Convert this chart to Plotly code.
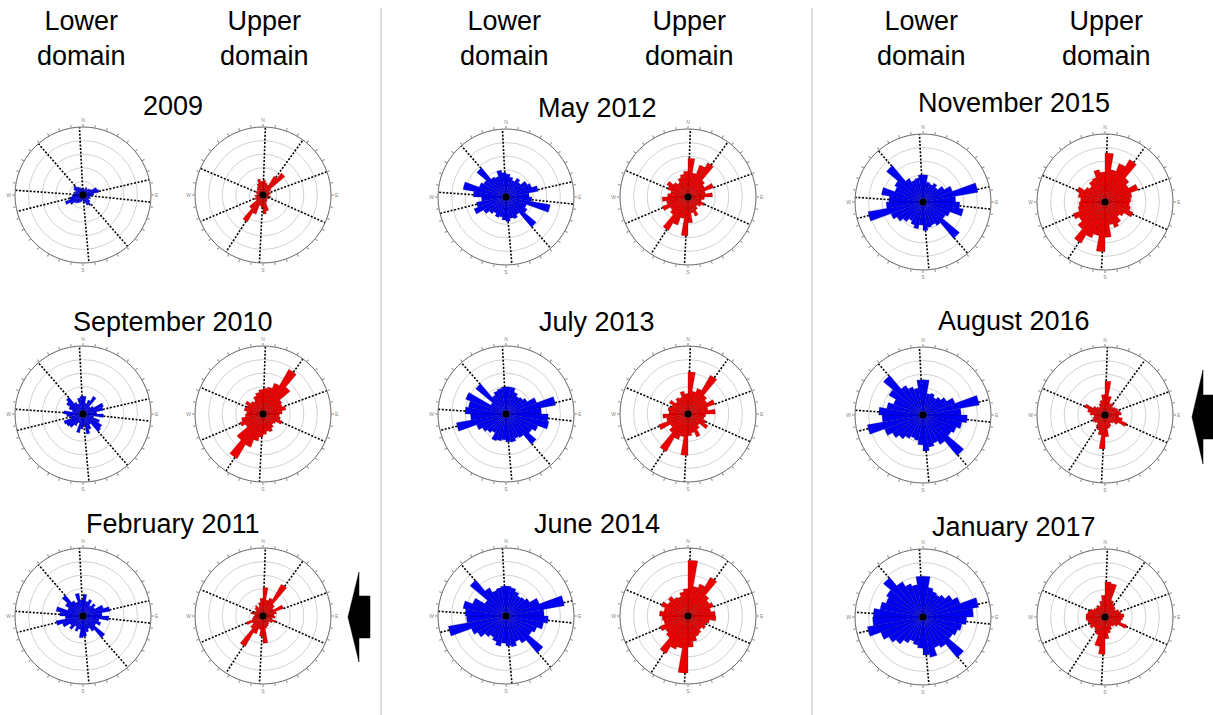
import plotly.graph_objects as go

W, H = 1213, 715
R_PX = 68  # rose radius in pixels

# 10-degree direction bins (bearing of bin centre, clockwise from north)
bins = list(range(5, 360, 10))

# Spoke bearings drawn as dotted reference lines
lower_spokes = [357, 319, 274, 256, 175, 139, 77, 96]
upper_spokes = [2, 36, 70, 114, 183, 213, 247, 293]

# Bin lengths (outer ring = 5)
lower_2009 = [0.5, 0.4, 0.6, 0.5, 0.6, 0.7, 1.1, 1.2, 0.8, 0.6, 0.5, 0.6, 0.5, 0.7, 0.9, 0.8, 0.6, 0.5,
              0.4, 0.5, 0.6, 0.7, 0.8, 1.1, 1.4, 1.0, 0.8, 0.6, 0.7, 0.6, 0.8, 0.9, 0.7, 0.6, 0.5, 0.4]
upper_2009 = [1.1, 0.9, 0.8, 1.6, 2.1, 0.7, 0.5, 0.6, 0.5, 0.4, 0.6, 0.4, 0.5, 0.4, 0.5, 0.6, 1.2, 1.4,
              0.9, 0.8, 1.5, 2.3, 1.3, 0.6, 0.7, 0.5, 0.6, 0.4, 0.5, 0.6, 0.5, 0.6, 0.7, 0.9, 1.2, 1.0]
lower_2010 = [1.3, 0.8, 1.1, 1.5, 0.7, 0.9, 1.6, 1.5, 1.0, 1.5, 0.8, 1.3, 1.6, 1.7, 0.9, 1.2, 1.5, 0.8,
              1.1, 1.4, 0.7, 1.0, 1.3, 1.4, 1.5, 0.9, 1.2, 1.4, 0.8, 1.1, 1.4, 1.6, 1.0, 0.8, 1.2, 1.3]
upper_2010 = [1.9, 2.0, 2.4, 3.8, 2.6, 1.6, 1.5, 1.7, 1.4, 1.2, 1.3, 1.5, 1.1, 1.0, 1.2, 1.4, 1.3, 1.5,
              1.7, 2.0, 2.6, 3.8, 2.5, 1.5, 1.8, 1.6, 1.3, 1.2, 1.4, 1.3, 1.5, 1.2, 1.1, 1.4, 1.6, 1.8]
lower_2011 = [1.6, 1.1, 1.3, 0.9, 1.2, 1.0, 1.6, 2.0, 1.4, 1.9, 1.2, 1.4, 1.1, 2.1, 1.3, 1.0, 1.2, 1.5,
              1.6, 1.0, 1.2, 0.9, 1.3, 1.1, 1.6, 2.0, 1.3, 1.7, 2.0, 1.2, 1.5, 2.0, 1.3, 1.1, 1.7, 1.2]
upper_2011 = [2.1, 1.2, 1.4, 2.7, 1.1, 0.9, 1.6, 1.0, 0.8, 0.9, 0.7, 1.0, 0.8, 0.6, 0.7, 0.8, 0.9, 2.0,
              1.5, 1.0, 1.4, 2.6, 1.2, 0.9, 1.3, 0.8, 0.7, 0.6, 0.9, 0.7, 0.6, 0.8, 0.9, 0.7, 1.0, 1.3]
lower_2012 = [1.7, 1.5, 1.3, 1.6, 1.4, 1.8, 2.0, 2.4, 1.7, 1.9, 3.3, 1.6, 1.8, 2.9, 1.5, 1.7, 1.6, 1.8,
              1.7, 1.5, 1.6, 1.4, 1.6, 1.9, 2.5, 2.2, 1.8, 2.4, 3.2, 2.1, 1.9, 2.8, 1.7, 1.6, 2.0, 1.8]
upper_2012 = [2.85, 1.8, 2.5, 2.9, 1.6, 1.4, 2.0, 1.3, 1.8, 1.2, 1.0, 1.3, 1.1, 0.9, 1.1, 1.5, 1.2, 1.9,
              2.85, 1.6, 2.2, 2.85, 1.7, 1.5, 2.0, 1.6, 1.9, 1.5, 1.3, 1.6, 1.8, 1.4, 1.2, 1.5, 1.7, 1.9]
lower_2013 = [2.0, 2.0, 1.7, 1.5, 1.6, 1.8, 2.4, 3.7, 2.6, 3.1, 3.2, 2.5, 2.2, 2.9, 2.0, 1.9, 2.1, 2.05,
              1.9, 2.0, 2.1, 1.6, 1.8, 2.0, 2.3, 3.7, 2.6, 3.0, 2.8, 3.15, 1.3, 2.9, 1.6, 1.8, 1.9, 2.0]
upper_2013 = [3.1, 1.7, 2.0, 3.3, 1.8, 1.6, 2.1, 1.5, 2.0, 1.3, 1.2, 1.4, 1.7, 1.1, 1.3, 1.8, 1.4, 1.6,
              3.05, 1.7, 2.0, 3.2, 1.8, 1.5, 2.3, 1.6, 1.85, 1.4, 1.5, 1.3, 1.6, 1.2, 1.4, 1.3, 1.7, 1.5]
lower_2014 = [2.2, 2.1, 1.9, 1.7, 1.8, 2.0, 2.6, 4.35, 2.8, 3.1, 2.8, 2.4, 2.2, 3.55, 2.3, 2.0, 2.3, 2.2,
              2.0, 2.25, 2.0, 1.8, 2.0, 2.4, 2.7, 4.3, 2.9, 3.0, 3.2, 2.6, 1.8, 3.45, 2.4, 2.0, 2.1, 2.2]
upper_2014 = [4.1, 2.2, 2.5, 3.3, 2.0, 1.8, 2.0, 1.7, 2.0, 2.05, 1.6, 1.4, 1.5, 1.3, 1.5, 1.6, 1.9, 2.3,
              4.2, 2.4, 2.6, 3.2, 2.1, 1.9, 2.2, 1.8, 1.9, 2.1, 1.8, 2.1, 1.7, 1.9, 1.6, 1.5, 1.8, 2.0]
lower_2015 = [2.0, 1.5, 1.4, 1.6, 1.4, 1.8, 2.3, 4.1, 2.4, 2.7, 3.0, 2.1, 1.9, 3.5, 2.0, 1.8, 1.9, 2.1,
              1.7, 2.0, 1.8, 1.6, 1.9, 2.2, 2.5, 4.1, 2.7, 2.5, 3.1, 2.2, 2.4, 3.5, 2.0, 1.7, 1.8, 2.0]
upper_2015 = [3.6, 2.4, 3.0, 3.6, 2.3, 2.0, 2.6, 2.0, 1.9, 1.8, 1.9, 2.2, 1.6, 1.4, 1.8, 2.0, 1.7, 2.6,
              3.65, 2.5, 2.8, 3.5, 2.6, 2.2, 2.5, 2.0, 1.9, 1.8, 2.0, 2.2, 1.7, 1.5, 1.8, 1.9, 2.4, 2.2]
lower_2016 = [2.6, 1.6, 1.7, 1.5, 1.7, 2.0, 2.5, 4.2, 2.8, 3.25, 2.9, 2.6, 2.4, 3.9, 2.5, 2.2, 2.4, 2.65,
              2.2, 1.9, 1.8, 2.0, 2.3, 2.6, 3.0, 4.15, 3.0, 3.25, 2.7, 2.3, 2.9, 3.8, 2.5, 2.2, 2.0, 2.6]
upper_2016 = [2.5, 1.4, 0.9, 1.0, 0.8, 0.9, 1.0, 1.1, 1.2, 1.0, 1.3, 1.7, 1.1, 0.8, 0.7, 0.9, 1.0, 1.6,
              2.5, 1.5, 1.2, 1.0, 0.8, 0.9, 1.0, 0.9, 0.8, 1.1, 1.3, 1.6, 1.0, 0.8, 0.7, 0.9, 1.1, 1.5]
lower_2017 = [3.0, 2.2, 2.0, 1.9, 2.1, 2.5, 2.9, 4.15, 3.7, 3.2, 2.9, 2.7, 2.5, 3.9, 2.6, 2.4, 3.0, 2.8,
              2.3, 2.1, 1.9, 2.2, 2.6, 2.9, 3.3, 4.15, 3.7, 3.65, 3.2, 2.9, 3.1, 3.8, 3.0, 2.6, 2.4, 3.0]
upper_2017 = [2.6, 2.5, 1.3, 1.1, 1.0, 0.9, 1.1, 1.2, 1.4, 1.3, 1.2, 1.7, 1.1, 0.9, 0.8, 1.0, 1.2, 1.6,
              2.75, 2.2, 1.4, 1.2, 1.1, 1.3, 1.2, 1.3, 1.4, 1.4, 1.3, 1.2, 1.0, 0.9, 1.0, 0.9, 1.2, 1.6]

survey_titles = ["2009", "September 2010", "February 2011",
                 "May 2012", "July 2013", "June 2014",
                 "November 2015", "August 2016", "January 2017"]
lower_sets = [lower_2009, lower_2010, lower_2011, lower_2012, lower_2013, lower_2014,
              lower_2015, lower_2016, lower_2017]
upper_sets = [upper_2009, upper_2010, upper_2011, upper_2012, upper_2013, upper_2014,
              upper_2015, upper_2016, upper_2017]

# Panel geometry (pixels)
lower_cx = [83, 506, 923]
upper_cx = [263, 688, 1105]
row_cy = [[195, 414, 616], [197, 414, 616], [202, 415, 617]]
title_cx = [173, 597, 1014]
title_cy = [[106, 322, 524], [108, 322, 524], [103, 321, 527]]

BLUE = "#0000f0"
RED = "#ea0000"
FONT = "Liberation Sans, Arial, sans-serif"


def px(x):
    return x / W


def py(y):
    return 1 - y / H


def spoke_start(vals, angle):
    """Radius at which a spoke leaves the bars (spokes run behind the bars)."""
    i = int(angle // 10) % 36
    r = vals[i]
    off = angle - (i * 10)
    if off < 1.5:
        r = max(r, vals[(i - 1) % 36])
    elif off > 8.5:
        r = max(r, vals[(i + 1) % 36])
    return r


fig = go.Figure()
layout = {}
tick_vals = list(range(0, 360, 10))
tick_text = ["N" if v == 0 else "E" if v == 90 else "S" if v == 180 else "W" if v == 270 else ""
             for v in tick_vals]

idx = 0
for k in range(9):
    col, row = divmod(k, 3)
    cy = row_cy[col][row]
    for cx, vals, spokes, color, edge in (
        (lower_cx[col], lower_sets[k], lower_spokes, BLUE, "rgba(0,0,120,0.8)"),
        (upper_cx[col], upper_sets[k], upper_spokes, RED, "rgba(110,0,0,0.8)"),
    ):
        idx += 1
        pname = "polar" if idx == 1 else f"polar{idx}"
        for a in spokes:
            fig.add_trace(go.Scatterpolar(
                r=[spoke_start(vals, a), 5], theta=[a, a], mode="lines", subplot=pname,
                line=dict(color="black", width=1.6, dash="2px,1.6px"),
                showlegend=False, hoverinfo="skip"))
        fig.add_trace(go.Barpolar(
            r=vals, theta=bins, width=[10] * len(bins), subplot=pname,
            marker=dict(color=color, line=dict(color=edge, width=0.35)),
            showlegend=False))
        fig.add_trace(go.Scatterpolar(
            r=[0], theta=[0], mode="markers", subplot=pname,
            marker=dict(color="black", size=7), showlegend=False, hoverinfo="skip"))
        layout[pname] = dict(
            domain=dict(x=[px(cx - R_PX), px(cx + R_PX)], y=[py(cy + R_PX), py(cy - R_PX)]),
            bgcolor="white",
            radialaxis=dict(range=[0, 5], tickvals=[1, 2, 3, 4], showticklabels=False,
                            ticks="", showline=False, gridcolor="#d2d2d2", gridwidth=1),
            angularaxis=dict(rotation=90, direction="clockwise", tickvals=tick_vals,
                             ticktext=tick_text, ticks="outside", ticklen=2.5, tickwidth=0.7,
                             tickcolor="#888", showgrid=False, showline=True,
                             linecolor="#666", linewidth=1,
                             tickfont=dict(size=5, color="#888", family=FONT)),
        )

annotations = []
for col in range(3):
    for text, x in (("Lower<br>domain", lower_cx[col] - 2), ("Upper<br>domain", upper_cx[col] + 1)):
        annotations.append(dict(text=text, x=px(x), y=py(38), xref="paper", yref="paper",
                                showarrow=False, xanchor="center", yanchor="middle",
                                font=dict(family=FONT, size=27, color="black")))
    for row in range(3):
        annotations.append(dict(text=survey_titles[col * 3 + row], x=px(title_cx[col]),
                                y=py(title_cy[col][row]), xref="paper", yref="paper",
                                showarrow=False, xanchor="center", yanchor="middle",
                                font=dict(family=FONT, size=27, color="black")))


def arrow_path(tip_x, tip_y, base_x, head_half, shaft_half, end_x):
    pts = [(tip_x, tip_y), (base_x, tip_y - head_half), (base_x, tip_y - shaft_half),
           (end_x, tip_y - shaft_half), (end_x, tip_y + shaft_half), (base_x, tip_y + shaft_half),
           (base_x, tip_y + head_half)]
    return "M " + " L ".join(f"{px(x):.5f},{py(y):.5f}" for x, y in pts) + " Z"


shapes = [
    dict(type="line", xref="paper", yref="paper", x0=px(381), x1=px(381), y0=py(8), y1=py(715),
         line=dict(color="#c8c8c8", width=1.2)),
    dict(type="line", xref="paper", yref="paper", x0=px(812), x1=px(812), y0=py(8), y1=py(715),
         line=dict(color="#c8c8c8", width=1.2)),
    dict(type="path", xref="paper", yref="paper", path=arrow_path(348, 617, 359, 45, 21, 370),
         fillcolor="black", line=dict(color="black", width=0.5)),
    dict(type="path", xref="paper", yref="paper", path=arrow_path(1192, 417, 1203, 47, 22, 1215),
         fillcolor="black", line=dict(color="black", width=0.5)),
]

fig.update_layout(width=W, height=H, margin=dict(l=0, r=0, t=0, b=0),
                  paper_bgcolor="white", plot_bgcolor="white",
                  annotations=annotations, shapes=shapes, showlegend=False, **layout)

fig.write_html("out.html")
